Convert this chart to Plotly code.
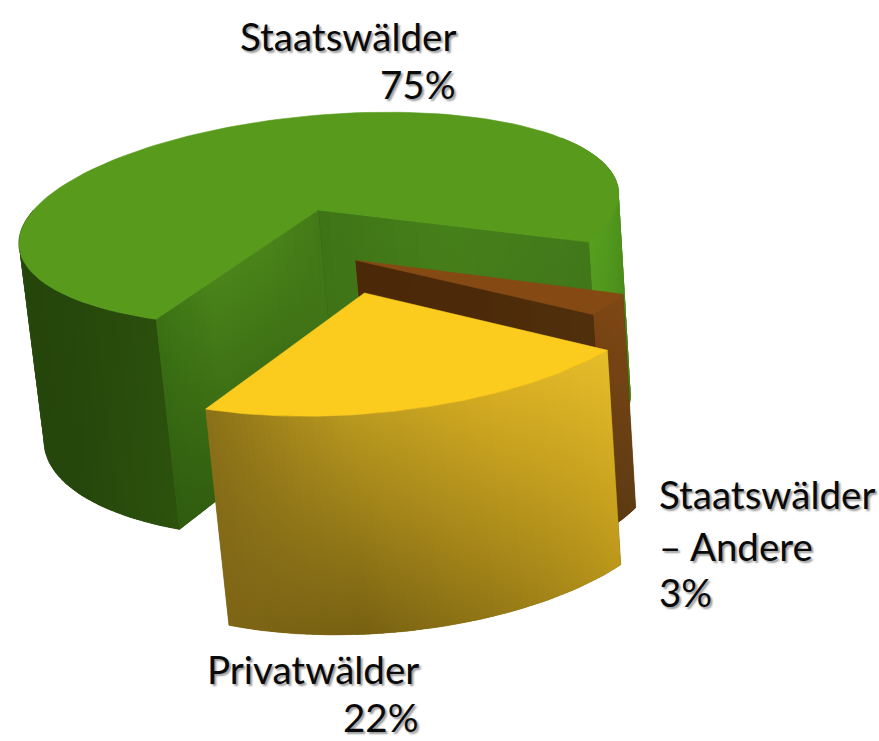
import math
import plotly.graph_objects as go

names = ["Staatswälder", "Staatswälder – Andere", "Privatwälder"]
shares = [75, 3, 22]
label_lines = [["Staatswälder"], ["Staatswälder", "– Andere"], ["Privatwälder"]]

# view
CX, CY, R = 318, 210, 300
ELEV = math.radians(20)
ROLL = math.radians(5.3)
D = 11.0
H = 0.72
START = 122.0   # degrees; clockwise on screen, 0 = right, 90 = front

def project(X, Y, Z):
    yc = Y * math.sin(ELEV) - Z * math.cos(ELEV)
    depth = Y * math.cos(ELEV) + Z * math.sin(ELEV)
    p = 1 / (1 - depth / D)
    x0, y0 = R * X * p, R * yc * p
    return (CX + x0 * math.cos(ROLL) + y0 * math.sin(ROLL),
            CY - x0 * math.sin(ROLL) + y0 * math.cos(ROLL))

def hex2(c):
    return [int(c[i:i + 2], 16) for i in (1, 3, 5)]

def ramp(stops, t):
    n = len(stops) - 1
    t = max(0, min(1, t)) * n
    i = min(int(t), n - 1)
    a, b = hex2(stops[i]), hex2(stops[i + 1])
    f = t - i
    return "rgb(%d,%d,%d)" % tuple(round(a[k] + (b[k] - a[k]) * f) for k in range(3))

fig = go.Figure()

def poly(pts, color):
    xs = [p[0] for p in pts] + [pts[0][0]]
    ys = [p[1] for p in pts] + [pts[0][1]]
    fig.add_trace(go.Scatter(x=xs, y=ys, mode="lines", fill="toself", fillcolor=color,
                             line=dict(color=color, width=0.6),
                             hoverinfo="skip", showlegend=False))

def surface(edge, top, bottom, nu, height=H):
    """edge(u) gives (X, Y); a vertical wall from Z=0 to Z=-height, one strip per step of u,
    each with a top-to-bottom gradient, over a solid underlay that hides the strip seams."""
    outline = [project(*edge(i / nu), 0) for i in range(nu + 1)]
    outline += [project(*edge(i / nu), -height) for i in range(nu, -1, -1)]
    poly(outline, ramp(bottom, 0.5))
    for i in range(nu):
        u0, u1 = i / nu, min(1.0, (i + 1.6) / nu)
        a, b = edge(u0), edge(u1)
        pts = [project(a[0], a[1], 0), project(b[0], b[1], 0),
               project(b[0], b[1], -height), project(a[0], a[1], -height)]
        xs = [p[0] for p in pts] + [pts[0][0]]
        ys = [p[1] for p in pts] + [pts[0][1]]
        t = (i + 0.5) / nu
        fig.add_trace(go.Scatter(
            x=xs, y=ys, mode="lines", fill="toself", line=dict(width=0),
            fillgradient=dict(type="vertical", start=min(ys), stop=max(ys),
                              colorscale=[[0, ramp(top, t)], [1, ramp(bottom, t)]]),
            hoverinfo="skip", showlegend=False))

def rim(a0, a1, ox, oy, rad=1.0):
    def f(u):
        a = math.radians(a0 + (a1 - a0) * u)
        return (ox + rad * math.cos(a), oy + rad * math.sin(a))
    return f

def spoke(a, ox, oy, rad=1.0):
    def f(u):
        r = rad * u
        return (ox + r * math.cos(math.radians(a)), oy + r * math.sin(math.radians(a)))
    return f

def top_face(a0, a1, ox, oy, color, rad=1.0):
    pts = [project(ox, oy, 0)]
    n = 120
    for i in range(n + 1):
        a = math.radians(a0 + (a1 - a0) * i / n)
        pts.append(project(ox + rad * math.cos(a), oy + rad * math.sin(a), 0))
    poly(pts, color)

# slice angular extents from the shares
sweep = [s * 3.6 for s in shares]
g0 = START
g1 = g0 + sweep[0]
b0, b1 = g1, g1 + sweep[1]
y0, y1 = b1, b1 + sweep[2]

# ---- green (stays at the centre)
surface(rim(g0, 195, 0, 0), ["#2a4e0c", "#26470b", "#26470b", "#25450b"],
        ["#2c520d", "#26470b", "#26470b", "#25450b"], 40)
surface(rim(g1 - 62, g1, 0, 0), ["#3f7a16", "#56a01f"], ["#3a7014", "#4a8c1a"], 30)
surface(spoke(g1, 0, 0), ["#3f7416", "#46801a", "#42781a"], ["#3f7416", "#417717", "#3f7416"], 24)
surface(spoke(g0, 0, 0), ["#447a18", "#4a8419", "#4a841a", "#3b7114"],
        ["#3d7014", "#336010", "#336010", "#2f5b0f"], 30)
top_face(g0, g1, 0, 0, "#579a1c")

# ---- brown
BX, BY, BR = 0.105, 0.50, 0.94
surface(rim(b0, b1, BX, BY, BR), ["#7f4814", "#7b4513"], ["#5e3b13", "#5a3812"], 10)
surface(spoke(b1, BX, BY, BR), ["#4a2808", "#4c2a09", "#50300c"], ["#4a2808", "#4c2a09", "#50300c"], 12)
top_face(b0, b1, BX, BY, "#854a14", BR)

# ---- yellow
YX, YY, YR = 0.12, 0.79, 0.935
surface(rim(y0, y1, YX, YY, YR), ["#e6bd2a", "#d6ad22", "#b8981f", "#8a7018"],
        ["#bd981a", "#967a16", "#776012", "#7d6516"], 70, H * 0.97)
top_face(y0, y1, YX, YY, "#fbcb1e", YR)

# ---- text
TXT = "Lato"
SHADOW = "2px 2px 2px #9a9a9a"
def label(x, y, text, anchor):
    fig.add_annotation(x=x, y=y, text=text, showarrow=False, xanchor=anchor, yanchor="middle",
                       font=dict(family=TXT, size=38.5, color="#0a0a0a", shadow=SHADOW))

label(458, 36, label_lines[0][0], "right")
label(458, 84, f"{shares[0]}%", "right")
label(657, 494, label_lines[1][0], "left")
label(657, 546, label_lines[1][1], "left")
label(657, 592, f"{shares[1]}%", "left")
label(421, 669, label_lines[2][0], "right")
label(421, 717, f"{shares[2]}%", "right")

fig.update_layout(width=879, height=741, margin=dict(l=0, r=0, t=0, b=0),
                  paper_bgcolor="white", plot_bgcolor="white", showlegend=False,
                  xaxis=dict(range=[0, 879], visible=False, fixedrange=True),
                  yaxis=dict(range=[741, 0], visible=False, fixedrange=True))
fig.write_html("out.html", config=dict(displayModeBar=False),
               post_script="document.body.style.margin='0';document.body.style.overflow='hidden';")
